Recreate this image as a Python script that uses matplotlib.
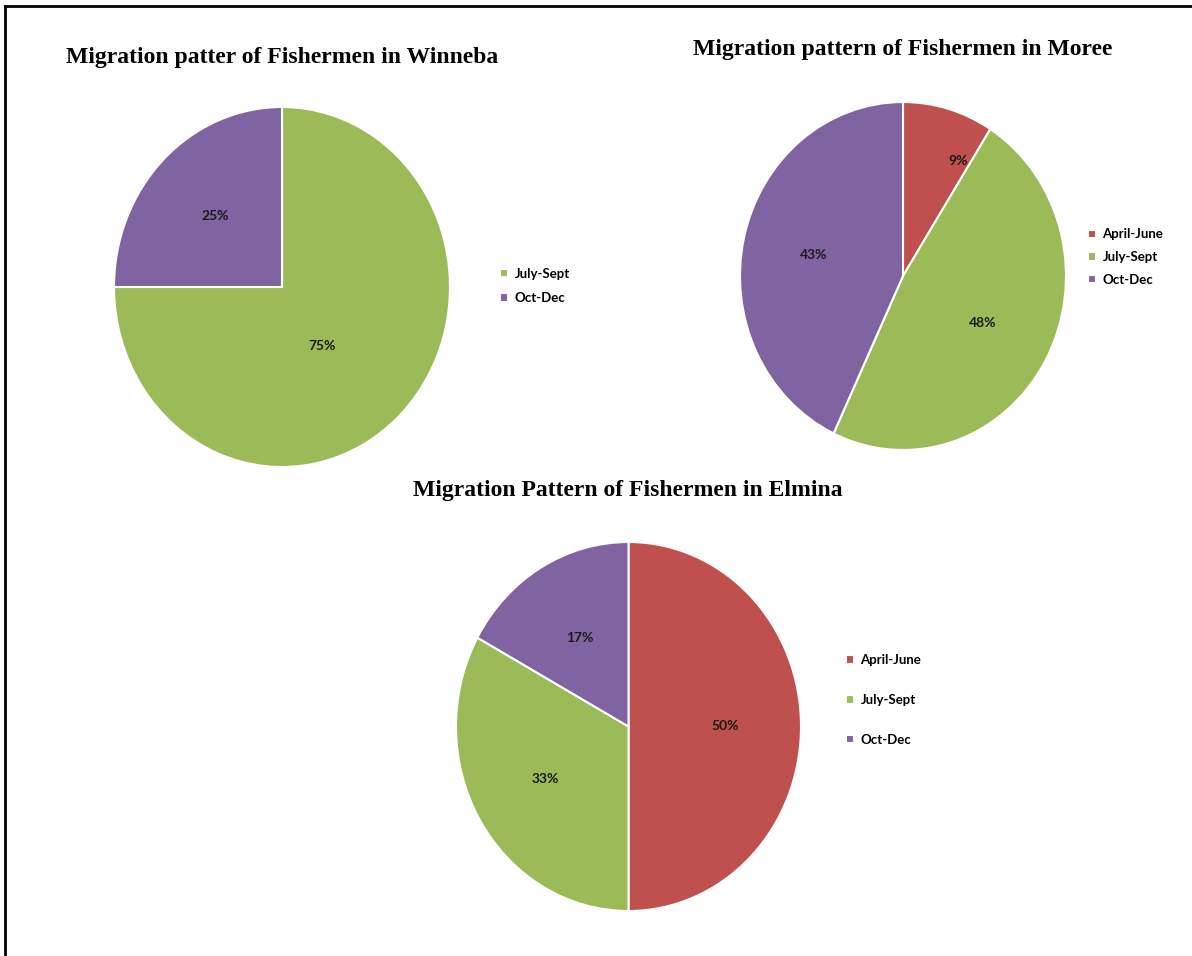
import matplotlib
matplotlib.use('Agg')
from matplotlib import pyplot as plt
from matplotlib.lines import Line2D

# data
winneba_labels = ['July-Sept', 'Oct-Dec']
winneba_values = [75, 25]
moree_labels = ['April-June', 'July-Sept', 'Oct-Dec']
moree_values = [9, 48, 43]
elmina_labels = ['April-June', 'July-Sept', 'Oct-Dec']
elmina_values = [50, 33, 17]

colors = {'April-June': '#C0504D', 'July-Sept': '#9BBB59', 'Oct-Dec': '#8064A2'}

W, H = 1192, 956
fig = plt.figure(figsize=(W / 100, H / 100), dpi=100)


def box(x0, y0, x1, y1):
    # pixel box (top-left origin) -> figure fraction rect
    return [x0 / W, 1 - y1 / H, (x1 - x0) / W, (y1 - y0) / H]


def draw_pie(rect, labels, values, title, title_xy, leg_xy, leg_spacing):
    ax = fig.add_axes(rect)
    wedges, texts, autotexts = ax.pie(
        values, colors=[colors[l] for l in labels], startangle=90,
        counterclock=False, autopct='%d%%', pctdistance=0.56,
        wedgeprops=dict(edgecolor='white', linewidth=1.5),
        textprops=dict(fontfamily='Lato', fontweight='bold', fontsize=10,
                       color='#1a1a1a'))
    ax.set_aspect('auto')
    ax.set_xlim(-1, 1)
    ax.set_ylim(-1, 1)
    fig.text(title_xy[0] / W, 1 - title_xy[1] / H, title, ha='center',
             va='center', fontfamily='Liberation Serif', fontweight='bold',
             fontsize=17)
    ax.legend(wedges, labels, loc='center left',
              bbox_to_anchor=(leg_xy[0] / W, 1 - leg_xy[1] / H),
              bbox_transform=fig.transFigure, frameon=False,
              borderpad=0, borderaxespad=0, handlelength=0.6,
              handleheight=0.6, handletextpad=0.5,
              labelspacing=leg_spacing,
              prop=dict(family='Lato', weight='bold', size=9.5))
    return autotexts


a1 = draw_pie(box(114, 107, 450, 467), winneba_labels, winneba_values,
              'Migration patter of Fishermen in Winneba', (282, 57),
              (500, 286), 0.95)
a1[0].set_position((0.24, -0.33))

a2 = draw_pie(box(740, 102, 1066, 450), moree_labels, moree_values,
              'Migration pattern of Fishermen in Moree', (903, 50),
              (1088, 257), 0.8)
a2[0].set_position((0.34, 0.66))

draw_pie(box(456, 542, 801, 911), elmina_labels, elmina_values,
         'Migration Pattern of Fishermen in Elmina', (628, 491),
         (846, 700), 2.1)

# frame lines (left and top only)
fig.add_artist(Line2D([5 / W, 5 / W], [0, 1 - 6 / H], color='black', lw=2,
                      transform=fig.transFigure))
fig.add_artist(Line2D([5 / W, 1], [1 - 6 / H, 1 - 6 / H], color='black', lw=2,
                      transform=fig.transFigure))

fig.savefig('out.png', dpi=100)
